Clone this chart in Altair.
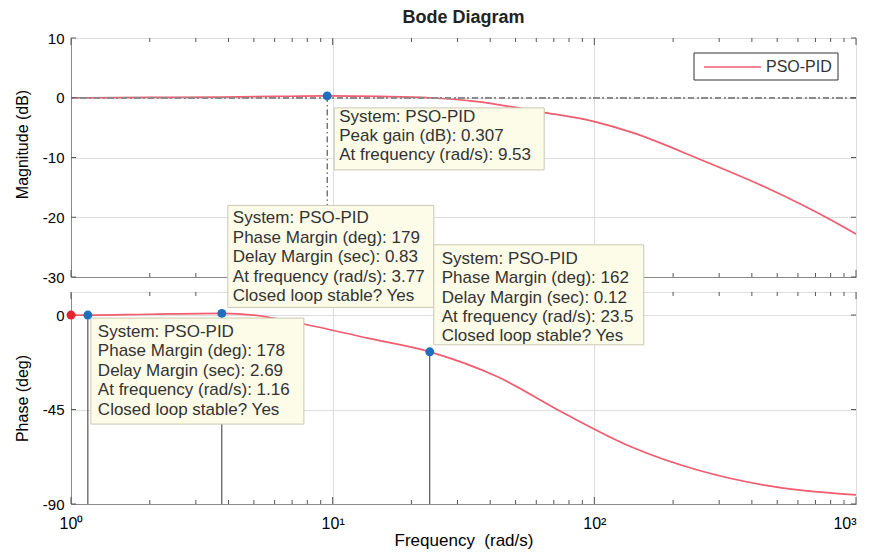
import altair as alt
import pandas as pd

# ---------------- data ----------------
series_name = "PSO-PID"

freq_mag = [1, 1.16, 2, 3.77, 6, 9.53, 15, 23.5, 35, 63, 100, 139, 250, 447, 806, 1000]
mag_db = [0.0, 0.0, 0.05, 0.12, 0.22, 0.307, 0.22, 0.0, -0.6, -2.4, -4.0, -5.8, -10.2, -14.9, -20.5, -22.8]

freq_ph = [1, 1.16, 2, 3.77, 5, 7.57, 13.6, 23.5, 42.7, 76.7, 138, 248, 446, 1000]
phase_deg = [0.0, 0.0, 0.4, 0.8, 0.0, -4.0, -11.0, -17.5, -29.4, -46.8, -62.7, -73.8, -81.0, -85.7]

peak_freq = [9.53]
peak_gain = [0.307]

pm_freq = [1.16, 3.77, 23.5]
pm_phase = [0.0, 0.8, -17.5]

start_freq = [1.0]
start_phase = [0.0]

tip_peak = "System: PSO-PID\nPeak gain (dB): 0.307\nAt frequency (rad/s): 9.53"
tip_pm = [
    "System: PSO-PID\nPhase Margin (deg): 178\nDelay Margin (sec): 2.69\nAt frequency (rad/s): 1.16\nClosed loop stable? Yes",
    "System: PSO-PID\nPhase Margin (deg): 179\nDelay Margin (sec): 0.83\nAt frequency (rad/s): 3.77\nClosed loop stable? Yes",
    "System: PSO-PID\nPhase Margin (deg): 162\nDelay Margin (sec): 0.12\nAt frequency (rad/s): 23.5\nClosed loop stable? Yes",
]

decade_ticks = [1, 10, 100, 1000]
minor_ticks = [2, 3, 4, 5, 6, 7, 8, 9, 20, 30, 40, 50, 60, 70, 80, 90,
               200, 300, 400, 500, 600, 700, 800, 900]
mag_ticks = [-30, -20, -10, 0, 10]
phase_ticks = [-90, -45, 0]

# ---------------- styling ----------------
FONT = "Liberation Sans"
RED = "#F25C6E"
BLUE = "#1F6FBF"
TIP_FILL = "#FCFCE8"
TIP_STROKE = "#C8C8B4"
TEXT = "#333333"
FRAME = "#555555"
W = 785
H_TOP = 239
H_BOT = 212

mag_df = pd.DataFrame({"f": freq_mag, "v": mag_db})
ph_df = pd.DataFrame({"f": freq_ph, "v": phase_deg})
peak_df = pd.DataFrame({"f": peak_freq, "v": peak_gain, "tip": [tip_peak]})
pm_df = pd.DataFrame({"f": pm_freq, "v": pm_phase, "tip": tip_pm})
start_df = pd.DataFrame({"f": start_freq, "v": start_phase})
legend_df = pd.DataFrame({"label": [series_name]})
dec_df = pd.DataFrame({"f": decade_ticks})
min_df = pd.DataFrame({"f": minor_ticks})

label_expr = ("datum.value == 1 ? '10⁰' : datum.value == 10 ? '10¹' : "
              "datum.value == 100 ? '10²' : datum.value == 1000 ? '10³' : ''")


def x_enc(show_labels):
    return alt.X(
        "f:Q",
        scale=alt.Scale(type="log", domain=[1, 1000], nice=False),
        axis=alt.Axis(
            values=decade_ticks,
            labelExpr=label_expr,
            labels=show_labels,
            title="Frequency\u00a0\u00a0(rad/s)" if show_labels else None,
            ticks=False,
            tickSize=0,
            labelPadding=11,
            labelFontSize=16,
            labelAlign={"condition": {"test": "datum.value == 1000", "value": "right"}, "value": "center"},
            titleFontSize=17,
            titleFontWeight="normal",
            titlePadding=1,
            grid=True,
            labelFlush=False,
            labelOverlap=False,
        ),
    )


def y_enc(domain, ticks, title, title_y=None):
    kw = dict(values=ticks, title=title, ticks=False, tickSize=0, labelPadding=7,
              labelExpr="toString(datum.value)",
              labelFontSize=15, titleFontSize=16, titleFontWeight="normal",
              titlePadding=12, grid=True)
    if title_y is not None:
        kw["titleY"] = title_y
    return alt.Y("v:Q", scale=alt.Scale(domain=domain, nice=False, zero=False), axis=alt.Axis(**kw))


def frame_ticks(h, yticks):
    """MATLAB-style inward ticks on all four sides, placed through the scales."""
    layers = []
    for df, ln in ((dec_df, 7), (min_df, 4)):
        layers.append(alt.Chart(df).mark_rule(color=FRAME, strokeWidth=1).encode(
            x="f:Q", y=alt.value(0), y2=alt.value(ln)))
        layers.append(alt.Chart(df).mark_rule(color=FRAME, strokeWidth=1).encode(
            x="f:Q", y=alt.value(h), y2=alt.value(h - ln)))
    ydf = pd.DataFrame({"v": yticks})
    layers.append(alt.Chart(ydf).mark_rule(color=FRAME, strokeWidth=1).encode(
        y="v:Q", x=alt.value(0), x2=alt.value(5)))
    layers.append(alt.Chart(ydf).mark_rule(color=FRAME, strokeWidth=1).encode(
        y="v:Q", x=alt.value(W), x2=alt.value(W - 5)))
    return layers


# ---------------- magnitude panel ----------------
mag_y = y_enc([-30, 10], mag_ticks, "Magnitude (dB)", title_y=106)

mag_line = alt.Chart(mag_df).mark_line(color=RED, strokeWidth=1.7, interpolate="monotone").encode(
    x=x_enc(False), y=mag_y)
zero_rule = alt.Chart(mag_df).mark_rule(color="#8a8a8a", strokeWidth=1, strokeDash=[6, 3, 1.5, 3]).encode(
    y=alt.datum(0))
peak_rule = alt.Chart(peak_df).mark_rule(color="#333333", strokeWidth=1, strokeDash=[6, 3, 1.5, 3]).encode(
    x="f:Q", y="v:Q", y2=alt.datum(-30))
peak_pt = alt.Chart(peak_df).mark_point(filled=True, color=BLUE, size=80, opacity=1).encode(
    x="f:Q", y="v:Q")
peak_box = alt.Chart(peak_df).mark_rect(fill=TIP_FILL, stroke=TIP_STROKE, strokeWidth=1,
                                        xOffset=7, x2Offset=217, yOffset=12, y2Offset=74).encode(
    x="f:Q", x2="f", y="v:Q", y2="v")
peak_txt = alt.Chart(peak_df).mark_text(align="left", baseline="top", dx=12, dy=13, lineBreak="\n",
                                        lineHeight=19, font=FONT, fontSize=17, color=TEXT).encode(
    x="f:Q", y="v:Q", text="tip:N")

leg_box = alt.Chart(legend_df).mark_rect(fill="white", stroke="#333333", strokeWidth=1).encode(
    x=alt.value(623), x2=alt.value(767), y=alt.value(15), y2=alt.value(42))
leg_line = alt.Chart(legend_df).mark_rule(color=RED, strokeWidth=1.7).encode(
    x=alt.value(633), x2=alt.value(690), y=alt.value(29))
leg_txt = alt.Chart(legend_df).mark_text(align="left", baseline="middle", font=FONT, fontSize=16,
                                         color=TEXT).encode(
    x=alt.value(695), y=alt.value(29), text="label:N")

top = alt.layer(mag_line, zero_rule, peak_rule, *frame_ticks(H_TOP, mag_ticks), peak_pt, peak_box,
                peak_txt, leg_box, leg_line, leg_txt).properties(
    width=W, height=H_TOP,
    title=alt.TitleParams("Bode Diagram", anchor="middle", fontSize=18, fontWeight="bold",
                          font=FONT, color="#222222", offset=4))

# ---------------- phase panel ----------------
ph_y = y_enc([-90, 11], phase_ticks, "Phase (deg)")

pm_rules = alt.Chart(pm_df).mark_rule(color="#333333", strokeWidth=1).encode(
    x=x_enc(True), y=ph_y, y2=alt.datum(-90))
ph_line = alt.Chart(ph_df).mark_line(color=RED, strokeWidth=1.7, interpolate="monotone").encode(
    x="f:Q", y="v:Q")
pm_pts = alt.Chart(pm_df).mark_point(filled=True, color=BLUE, size=80, opacity=1).encode(
    x="f:Q", y="v:Q")
start_pt = alt.Chart(start_df).mark_point(filled=True, color="#E3262E", size=80, opacity=1).encode(
    x="f:Q", y="v:Q")

# datatip box placement (pixel offsets from each tip's anchor point)
box_offsets = [(3, 216, 3, 109, 10, 9), (6, 212, -108, -6, 11, -103), (4, 214, -107, -7, 12, -101)]
tip_layers = []
for i, (x0, x1, y0, y1, tdx, tdy) in enumerate(box_offsets):
    d = pm_df.iloc[[i]]
    tip_layers.append(alt.Chart(d).mark_rect(fill=TIP_FILL, stroke=TIP_STROKE, strokeWidth=1,
                                             xOffset=x0, x2Offset=x1, yOffset=y0, y2Offset=y1).encode(
        x="f:Q", x2="f", y="v:Q", y2="v"))
    tip_layers.append(alt.Chart(d).mark_text(align="left", baseline="top", dx=tdx, dy=tdy, lineBreak="\n",
                                             lineHeight=19.4, font=FONT, fontSize=17, color=TEXT).encode(
        x="f:Q", y="v:Q", text="tip:N"))

bottom = alt.layer(pm_rules, ph_line, *frame_ticks(H_BOT, phase_ticks), pm_pts, start_pt,
                   *tip_layers).properties(width=W, height=H_BOT)

chart = alt.vconcat(top, bottom, spacing=15, bounds="flush").properties(
    padding={"left": 5, "top": 0, "right": 0, "bottom": 0}
).configure_view(
    stroke=FRAME, strokeWidth=1
).configure_axis(
    labelFont=FONT, titleFont=FONT, labelColor="#262626", titleColor="#262626",
    domain=False, gridColor="#f1f1f1"
).configure(background="white")

chart.save("out.html", embed_options={"renderer": "svg", "actions": False})
